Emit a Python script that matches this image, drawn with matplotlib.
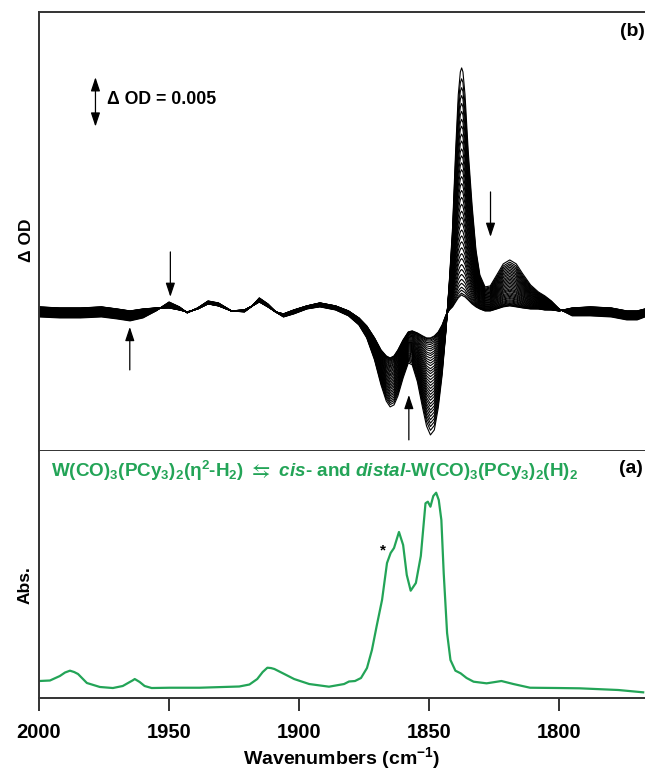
import numpy as np
import matplotlib.pyplot as plt

plt.rcParams['font.family'] = ['Liberation Sans', 'DejaVu Sans']
plt.rcParams['font.weight'] = 'bold'
plt.rcParams['mathtext.fontset'] = 'custom'
plt.rcParams['mathtext.rm'] = 'Liberation Sans:bold'
plt.rcParams['mathtext.it'] = 'Liberation Sans:bold:italic'
plt.rcParams['mathtext.bf'] = 'Liberation Sans:bold'
plt.rcParams['mathtext.fallback'] = 'stixsans'

GREEN = '#23a457'

# (a) FTIR absorbance of the starting complex
wn_abs = [2000, 1995.8, 1992, 1990, 1988.1, 1986.5, 1985, 1981.6, 1976.6, 1971.6,
          1967.8, 1965.1, 1964, 1963.2, 1962.3, 1961.3, 1959.4, 1956.7, 1949.8, 1938.3,
          1923, 1919.1, 1916.1, 1914, 1912.2, 1910.8, 1909.5, 1905.7, 1901.9, 1896.1,
          1888.5, 1882.7, 1880.8, 1878.5, 1876.2, 1873.9, 1872, 1870.1, 1868.1, 1866.2,
          1864.8, 1863.5, 1861.6, 1860, 1858.6, 1857.1, 1855.1, 1853.2, 1851.4, 1850.5,
          1849.5, 1848.4, 1847.3, 1846.3, 1845.3, 1844.4, 1843.1, 1841.8, 1839.9, 1837.9,
          1835.6, 1832.9, 1827.9, 1822.2, 1817.6, 1811.2, 1800.3, 1792.1, 1777.3, 1767.7]
absorb = [0.0338, 0.0348, 0.0439, 0.051, 0.0547, 0.052, 0.048, 0.0298, 0.0217, 0.0196,
          0.0237, 0.0318, 0.035, 0.0378, 0.035, 0.0318, 0.0237, 0.0196, 0.0202, 0.0202,
          0.0227, 0.0267, 0.0378, 0.052, 0.0607, 0.060, 0.0581, 0.048, 0.0378, 0.0277,
          0.0223, 0.0277, 0.0328, 0.0338, 0.0399, 0.0601, 0.0965, 0.147, 0.198, 0.2726,
          0.2929, 0.303, 0.3354, 0.3091, 0.2484, 0.2166, 0.2322, 0.2868, 0.3935, 0.3967,
          0.3866, 0.4082, 0.4149, 0.4001, 0.3597, 0.2524, 0.131, 0.0763, 0.0547, 0.0494,
          0.0399, 0.0324, 0.0291, 0.0338, 0.0277, 0.0202, 0.0196, 0.019, 0.0156, 0.0109]

# (b) difference spectra, first and last of the series (mOD)
wn_diff = [2000, 1992, 1984, 1976, 1970, 1965, 1960, 1955, 1950, 1946,
           1943, 1939, 1935, 1931, 1926, 1921, 1918, 1915.3, 1912, 1909,
           1906, 1902, 1897, 1892, 1886, 1881, 1877, 1874, 1871, 1868.5,
           1866.5, 1865, 1863.5, 1862, 1860, 1858, 1856.5, 1854.5, 1852.5, 1851,
           1849.5, 1848, 1846.5, 1845, 1843.5, 1842.2, 1841, 1839.8, 1838.8, 1838,
           1837.5, 1837, 1836.2, 1835, 1833.5, 1832, 1830.5, 1828.5, 1826.5, 1824,
           1821.5, 1819, 1816.5, 1814, 1811, 1808, 1805.5, 1803, 1800, 1795,
           1788, 1780, 1774, 1770, 1767]
dod_first = [-0.51, -0.61, -0.61, -0.51, -0.71, -0.91, -0.61, 0.10, 1.01, 0.51,
             -0.10, 0.40, 1.11, 0.91, 0.10, 0.00, 0.61, 1.42, 0.81, 0.00,
             -0.51, -0.20, 0.30, 0.51, 0.20, -0.40, -1.32, -2.63, -4.86, -7.39,
             -9.01, -9.61, -9.41, -8.50, -6.68, -5.16, -5.36, -7.08, -9.72, -11.54,
             -12.45, -11.94, -9.72, -6.38, -1.82, 3.24, 8.50, 16.39, 21.96, 24.29,
             24.69, 24.29, 21.96, 16.39, 10.83, 6.27, 3.74, 2.53, 2.63, 3.74,
             4.86, 5.26, 4.86, 3.85, 2.73, 2.02, 1.62, 1.11, 0.30, -0.40,
             -0.40, -0.51, -0.81, -0.81, -0.51]
dod_last = [0.51, 0.40, 0.40, 0.51, 0.30, 0.10, 0.30, 0.40, 0.40, 0.20,
            0.00, 0.30, 0.81, 0.61, 0.10, 0.20, 0.61, 1.01, 0.51, 0.00,
            -0.20, 0.20, 0.61, 0.91, 0.61, 0.10, -0.61, -1.42, -2.63, -3.85,
            -4.45, -4.66, -4.45, -3.85, -2.83, -2.02, -1.92, -2.13, -2.43, -2.63,
            -2.63, -2.43, -2.02, -1.32, -0.30, 0.20, 0.51, 1.01, 1.42, 1.62,
            1.72, 1.62, 1.52, 1.21, 0.81, 0.51, 0.30, 0.10, 0.10, 0.30,
            0.51, 0.61, 0.51, 0.40, 0.30, 0.30, 0.20, 0.20, 0.10, 0.40,
            0.51, 0.40, 0.10, 0.10, 0.30]
# peak height at 1837 cm-1 of each trace in the series (mOD)
peak_heights = [24.7, 23.6, 22.7, 21.9, 21.1, 20.3, 19.5, 18.8, 18.0, 17.3,
                16.5, 15.8, 15.1, 14.4, 13.7, 13.0, 12.3, 11.6, 10.9, 10.2,
                9.6, 9.0, 8.3, 7.7, 7.1, 6.5, 5.9, 5.4, 4.8, 4.3,
                3.8, 3.3, 2.9, 2.5, 2.2, 1.9, 1.72]

first = np.array(dod_first)
last = np.array(dod_last)

fig = plt.figure(figsize=(6.45, 7.73), dpi=100)
ax_b = fig.add_axes([0.0605, 0.417, 0.9395, 0.568])
ax_a = fig.add_axes([0.0605, 0.0974, 0.9395, 0.3196])

for h in peak_heights:
    f = (h - peak_heights[-1]) / (peak_heights[0] - peak_heights[-1])
    ax_b.plot(wn_diff, (last + f * (first - last)) * 1e-3, color='black', lw=0.8)

ax_a.plot(wn_abs, absorb, color=GREEN, lw=1.6)

for ax in (ax_a, ax_b):
    ax.set_xlim(2000, 1767)
    ax.spines['right'].set_visible(False)
    for s in ax.spines.values():
        s.set_color('#333333')
        s.set_linewidth(1.4)
    ax.set_yticks([])

ax_b.set_ylim(-0.01404, 0.03039)
ax_b.set_xticks([])
ax_a.spines['top'].set_visible(False)
ax_a.set_ylim(0, 0.5)
ax_a.set_xticks([2000, 1950, 1900, 1850, 1800])
ax_a.tick_params(axis='x', direction='out', length=9.5, width=1.4, color='#333333',
                 pad=9, labelsize=14.5)
ax_a.set_xlabel('Wavenumbers (cm$^{-1}$)', fontsize=14, fontweight='bold', labelpad=2)

ax_b.set_ylabel('Δ OD', fontsize=12.5, fontweight='bold')
ax_b.yaxis.set_label_coords(-0.008, 0.48)
ax_a.set_ylabel('Abs.', fontsize=12.5, fontweight='bold')
ax_a.yaxis.set_label_coords(-0.01, 0.456)

# scale bar
ax_b.annotate('', xy=(1978.3, 0.02375), xytext=(1978.3, 0.01875),
              arrowprops=dict(arrowstyle='<|-|>,head_length=0.6,head_width=0.2',
                              color='black', lw=0.9, mutation_scale=14, shrinkA=0, shrinkB=0))
ax_b.text(1973.9, 0.02145, 'Δ OD = 0.005', fontsize=12.8, fontweight='bold', va='center')

arrows = [(1949.5, 0.00607, 0.00152), (1965.1, -0.00587, -0.00152),
          (1826.4, 0.01214, 0.00759), (1857.8, -0.01295, -0.0084)]
for x, y0, y1 in arrows:
    ax_b.annotate('', xy=(x, y1), xytext=(x, y0),
                  arrowprops=dict(arrowstyle='-|>,head_length=0.6,head_width=0.2',
                                  color='black', lw=0.9, mutation_scale=14,
                                  shrinkA=0, shrinkB=0))

ax_b.text(0.999, 0.955, '(b)', transform=ax_b.transAxes, ha='right', va='center',
          fontsize=14, fontweight='bold')
ax_a.text(0.9967, 0.926, '(a)', transform=ax_a.transAxes, ha='right', va='center',
          fontsize=14, fontweight='bold')

title = ('W(CO)$_3$(PCy$_3$)$_2$(η$^2$-H$_2$) $\\leftrightarrows$ $\\it{cis}$- and $\\it{distal}$'
         '-W(CO)$_3$(PCy$_3$)$_2$(H)$_2$')
ax_a.text(0.0198, 0.895, title, transform=ax_a.transAxes, ha='left', va='baseline',
          fontsize=13.55, fontweight='bold', color=GREEN)
ax_a.text(1867.8, 0.299, '*', ha='center', va='center', fontsize=11, fontweight='bold')

fig.savefig('out.png', dpi=100)
